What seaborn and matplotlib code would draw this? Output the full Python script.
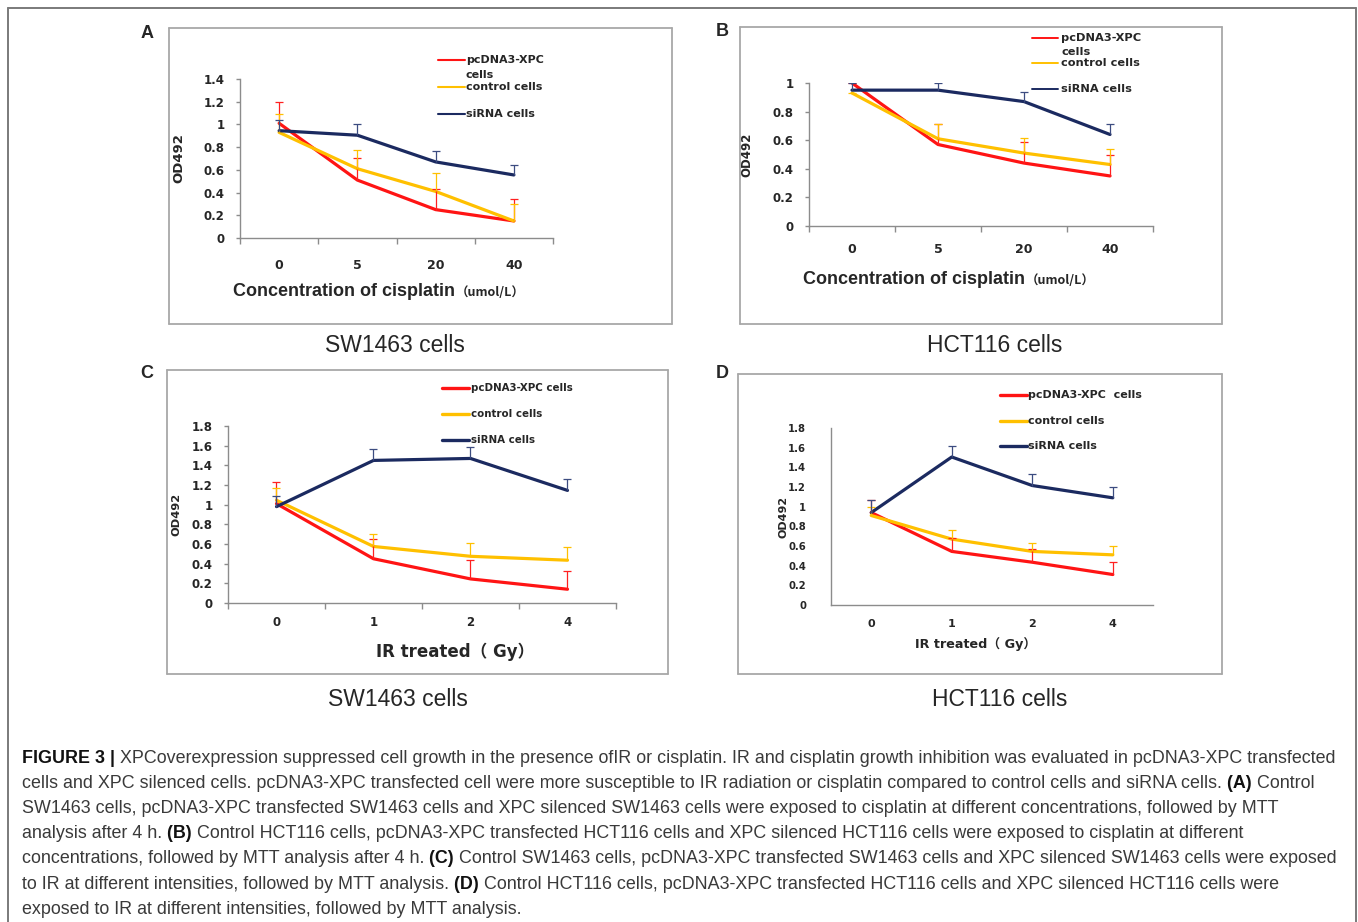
import numpy as np
import pandas as pd
import matplotlib.pyplot as plt
import seaborn as sns
from matplotlib.lines import Line2D

# ---- du lieu (doc tu hinh) ----
conc_labels = ['0', '5', '20', '40']
dose_labels = ['0', '1', '2', '4']
groups = ['pcDNA3-XPC cells', 'control cells', 'siRNA cells']

# A: SW1463 + cisplatin
a_xpc = [1.01, 0.51, 0.25, 0.15]
a_xpc_err = [0.19, 0.19, 0.18, 0.19]
a_ctrl = [0.93, 0.61, 0.41, 0.15]
a_ctrl_err = [0.16, 0.165, 0.16, 0.15]
a_sirna = [0.945, 0.905, 0.67, 0.555]
a_sirna_err = [0.09, 0.095, 0.095, 0.09]

# B: HCT116 + cisplatin
b_xpc = [1.0, 0.57, 0.44, 0.35]
b_xpc_err = [0.0, 0.14, 0.15, 0.145]
b_ctrl = [0.93, 0.61, 0.51, 0.43]
b_ctrl_err = [0.0, 0.105, 0.105, 0.105]
b_sirna = [0.95, 0.95, 0.87, 0.64]
b_sirna_err = [0.05, 0.05, 0.07, 0.07]

# C: SW1463 + IR
c_xpc = [1.01, 0.45, 0.245, 0.14]
c_xpc_err = [0.22, 0.2, 0.195, 0.19]
c_ctrl = [1.045, 0.575, 0.475, 0.435]
c_ctrl_err = [0.125, 0.13, 0.135, 0.13]
c_sirna = [0.98, 1.45, 1.47, 1.145]
c_sirna_err = [0.11, 0.115, 0.115, 0.115]

# D: HCT116 + IR
d_xpc = [0.94, 0.545, 0.435, 0.31]
d_xpc_err = [0.125, 0.135, 0.135, 0.13]
d_ctrl = [0.91, 0.67, 0.545, 0.51]
d_ctrl_err = [0.09, 0.09, 0.085, 0.085]
d_sirna = [0.94, 1.505, 1.215, 1.09]
d_sirna_err = [0.125, 0.115, 0.115, 0.115]

line_colors = ['#ff1414', '#ffc000', '#1b2a60']
err_colors = ['#ff2020', '#ffc000', '#3c4c80']
axis_grey = '#8c8c8c'

W, H = 1358, 922
sns.set_theme(style='white')
plt.rcParams['font.family'] = ['DejaVu Sans', 'Noto Sans CJK SC']

fig = plt.figure(figsize=(W / 100, H / 100), dpi=100)


def fx(x):
    return x / W


def fy(y):
    return 1 - y / H


def hline(x0, x1, y, **kw):
    fig.add_artist(Line2D([fx(x0), fx(x1)], [fy(y), fy(y)], transform=fig.transFigure, **kw))


def vline(x, y0, y1, **kw):
    fig.add_artist(Line2D([fx(x), fx(x)], [fy(y0), fy(y1)], transform=fig.transFigure, **kw))


def box(x0, y0, x1, y1, color='#a8a8a8', lw=1.3):
    hline(x0, x1, y0, color=color, lw=lw)
    hline(x0, x1, y1, color=color, lw=lw)
    vline(x0, y0, y1, color=color, lw=lw)
    vline(x1, y0, y1, color=color, lw=lw)


# khung ngoai (khong co canh duoi)
hline(8, 1356, 8, color='#7a7a7a', lw=1.4)
vline(8, 8, 925, color='#7a7a7a', lw=1.4)
vline(1356, 8, 925, color='#7a7a7a', lw=1.4)

# khung tung panel
box(169, 28, 672, 324)
box(740, 27, 1222, 324)
box(167, 370, 668, 674)
box(738, 374, 1222, 674)


def draw_panel(rect, labels, series, ymax, yticks, opts):
    left, right, y0, ytop = rect
    ax = fig.add_axes([fx(left), fy(y0), (right - left) / W, (y0 - ytop) / H])
    pos = np.arange(len(labels))

    df = pd.DataFrame({
        'pos': np.tile(pos, len(groups)),
        'od': np.concatenate([s[0] for s in series]),
        'group': np.repeat(groups, len(labels)),
    })
    sns.lineplot(data=df, x='pos', y='od', hue='group', hue_order=groups,
                 palette=line_colors, linewidth=opts['lw'], legend=False, ax=ax)

    # error bars: chi ve phia tren
    for (mean, err), ec in zip(series, err_colors):
        _, caps, _ = ax.errorbar(pos, mean, yerr=[np.zeros(len(err)), err], fmt='none',
                                 ecolor=ec, elinewidth=0.9, capsize=2.6, capthick=0.9)
        caps[0].set_visible(False)

    ax.set_xlim(-0.5, len(labels) - 0.5)
    ax.set_ylim(0, ymax)
    ax.set_xticks(pos)
    ax.set_xticklabels(labels, fontweight='bold', fontsize=opts['xfs'])
    ax.set_yticks(yticks)
    ax.set_yticklabels([('%g' % v) for v in yticks], fontweight='bold', fontsize=opts['yfs'])
    ax.tick_params(axis='x', which='major', length=0, pad=opts['xpad'])
    if opts['ticks']:
        ax.set_xticks(np.arange(-0.5, len(labels)), minor=True)
        ax.tick_params(axis='x', which='minor', bottom=True, length=4, width=1, color=axis_grey)
        ax.tick_params(axis='y', left=True, length=3, width=1, color=axis_grey, pad=opts['ypad'])
    else:
        ax.tick_params(axis='y', left=False, pad=opts['ypad'] + 3)
    for s in ['top', 'right']:
        ax.spines[s].set_visible(False)
    for s in ['left', 'bottom']:
        ax.spines[s].set_color(axis_grey)
        ax.spines[s].set_linewidth(1.0)
    ax.patch.set_alpha(0)
    ax.set_xlabel('')
    ax.set_ylabel('OD492', fontweight='bold', fontsize=opts['ylfs'])
    ax.yaxis.set_label_coords((opts['ylx'] - left) / (right - left), 0.5)
    return ax


# A
draw_panel((240, 553, 238, 79), conc_labels,
           [(a_xpc, a_xpc_err), (a_ctrl, a_ctrl_err), (a_sirna, a_sirna_err)],
           1.4, np.arange(0, 1.41, 0.2).round(1),
           dict(lw=2.3, xfs=9, yfs=8.5, xpad=15, ypad=8, ticks=True, ylfs=9.5, ylx=185))
# B
draw_panel((809, 1153, 226, 83), conc_labels,
           [(b_xpc, b_xpc_err), (b_ctrl, b_ctrl_err), (b_sirna, b_sirna_err)],
           1.0, np.arange(0, 1.01, 0.2).round(1),
           dict(lw=2.3, xfs=9, yfs=8.5, xpad=12, ypad=8, ticks=True, ylfs=8.5, ylx=753))
# C
draw_panel((228, 616, 603, 426), dose_labels,
           [(c_xpc, c_xpc_err), (c_ctrl, c_ctrl_err), (c_sirna, c_sirna_err)],
           1.8, np.arange(0, 1.81, 0.2).round(1),
           dict(lw=2.3, xfs=8.5, yfs=8.5, xpad=9.5, ypad=8, ticks=True, ylfs=8.2, ylx=181))
# D
draw_panel((831, 1153, 605, 428), dose_labels,
           [(d_xpc, d_xpc_err), (d_ctrl, d_ctrl_err), (d_sirna, d_sirna_err)],
           1.8, np.arange(0, 1.81, 0.2).round(1),
           dict(lw=2.3, xfs=8, yfs=7.2, xpad=10, ypad=9, ticks=False, ylfs=8, ylx=788))


# ---- chu giai (legend) ve tay theo vi tri goc ----
def legend(x0, x1, ys, texts, fs, lw):
    for y, c in zip(ys, line_colors):
        hline(x0, x1, y, color=c, lw=lw)
    for tx, ty, t in texts:
        fig.text(fx(tx), fy(ty), t, fontsize=fs, fontweight='bold', ha='left', va='center')


legend(438, 465, [60, 87, 114],
       [(466, 60, 'pcDNA3-XPC'), (466, 75, 'cells'), (466, 87, 'control cells'), (466, 114, 'siRNA cells')],
       8, 1.5)
legend(1032, 1058, [38, 63, 89],
       [(1061, 38, 'pcDNA3-XPC'), (1061, 52, 'cells'), (1061, 63, 'control cells'), (1061, 89, 'siRNA cells')],
       8.2, 1.4)
legend(442, 469, [388, 414, 440],
       [(471, 388, 'pcDNA3-XPC cells'), (471, 414, 'control cells'), (471, 440, 'siRNA cells')],
       7.4, 2.4)
legend(1000, 1027, [395, 421, 446],
       [(1028, 395, 'pcDNA3-XPC  cells'), (1028, 421, 'control cells'), (1028, 446, 'siRNA cells')],
       8, 2.4)

# ---- nhan truc x ----
narrow = ['Liberation Sans Narrow', 'Liberation Sans']
cjk = ['Noto Sans CJK SC']
fig.text(fx(455), fy(292), 'Concentration of cisplatin', fontsize=13, fontweight='bold',
         family=narrow, ha='right', va='center')
fig.text(fx(456), fy(293), '（umol/L）', fontsize=9, fontweight='bold', family=cjk, ha='left', va='center')
fig.text(fx(1025), fy(279), 'Concentration of cisplatin', fontsize=13, fontweight='bold',
         family=narrow, ha='right', va='center')
fig.text(fx(1026), fy(280), '（umol/L）', fontsize=9, fontweight='bold', family=cjk, ha='left', va='center')
fig.text(fx(455), fy(652), 'IR treated（ Gy）', fontsize=12, fontweight='bold',
         family=['DejaVu Sans', 'Noto Sans CJK SC'], ha='center', va='center')
fig.text(fx(976), fy(644), 'IR treated（ Gy）', fontsize=9.2, fontweight='bold',
         family=['DejaVu Sans', 'Noto Sans CJK SC'], ha='center', va='center')

# ---- ten panel + ten dong te bao ----
for t, x, y in [('A', 147, 33), ('B', 722, 32), ('C', 147, 373), ('D', 722, 373)]:
    fig.text(fx(x), fy(y), t, fontsize=13, fontweight='bold', family=['Liberation Sans'],
             ha='center', va='center')
for t, x, y in [('SW1463 cells', 395, 346), ('HCT116 cells', 995, 346),
                ('SW1463 cells', 398, 699), ('HCT116 cells', 1000, 700)]:
    fig.text(fx(x), fy(y), t, fontsize=16.5, family=['Liberation Sans'], ha='center', va='center')

# ---- chu thich hinh ----
caption = [
    [('FIGURE 3 |', True), (' XPCoverexpression suppressed cell growth in the presence ofIR or cisplatin. IR and '
                            'cisplatin growth inhibition was evaluated in pcDNA3-XPC transfected', False)],
    [('cells and XPC silenced cells. pcDNA3-XPC transfected cell were more susceptible to IR radiation or '
      'cisplatin compared to control cells and siRNA cells.', False), (' (A)', True), (' Control', False)],
    [('SW1463 cells, pcDNA3-XPC transfected SW1463 cells and XPC silenced SW1463 cells were exposed to '
      'cisplatin at different concentrations, followed by MTT', False)],
    [('analysis after 4 h.', False), (' (B)', True), (' Control HCT116 cells, pcDNA3-XPC transfected HCT116 '
                                                     'cells and XPC silenced HCT116 cells were exposed to cisplatin at different', False)],
    [('concentrations, followed by MTT analysis after 4 h.', False), (' (C)', True),
     (' Control SW1463 cells, pcDNA3-XPC transfected SW1463 cells and XPC silenced SW1463 cells were exposed', False)],
    [('to IR at different intensities, followed by MTT analysis.', False), (' (D)', True),
     (' Control HCT116 cells, pcDNA3-XPC transfected HCT116 cells and XPC silenced HCT116 cells were', False)],
    [('exposed to IR at different intensities, followed by MTT analysis.', False)],
]
cap_y = [758, 783, 808, 833, 858, 884, 909]
cap_color = '#3a3a3a'

renderer = fig.canvas.get_renderer()


def text_width(s, fs, bold):
    t = fig.text(0, 0, s, fontsize=fs, fontweight='bold' if bold else 'normal', family=narrow)
    w = t.get_window_extent(renderer).width
    t.remove()
    return w


# chon co chu de dong dau dai ~1320 px
base_fs = 12.3
w0 = sum(text_width(s, base_fs, b) for s, b in caption[0])
cap_fs = base_fs * 1320 / w0

for line, y in zip(caption, cap_y):
    x = 22
    for s, b in line:
        fig.text(fx(x), fy(y), s, fontsize=cap_fs, fontweight='bold' if b else 'normal',
                 family=narrow, color='#111111' if b else cap_color, ha='left', va='center')
        x += text_width(s, cap_fs, b)

fig.savefig('out.png', dpi=100)
